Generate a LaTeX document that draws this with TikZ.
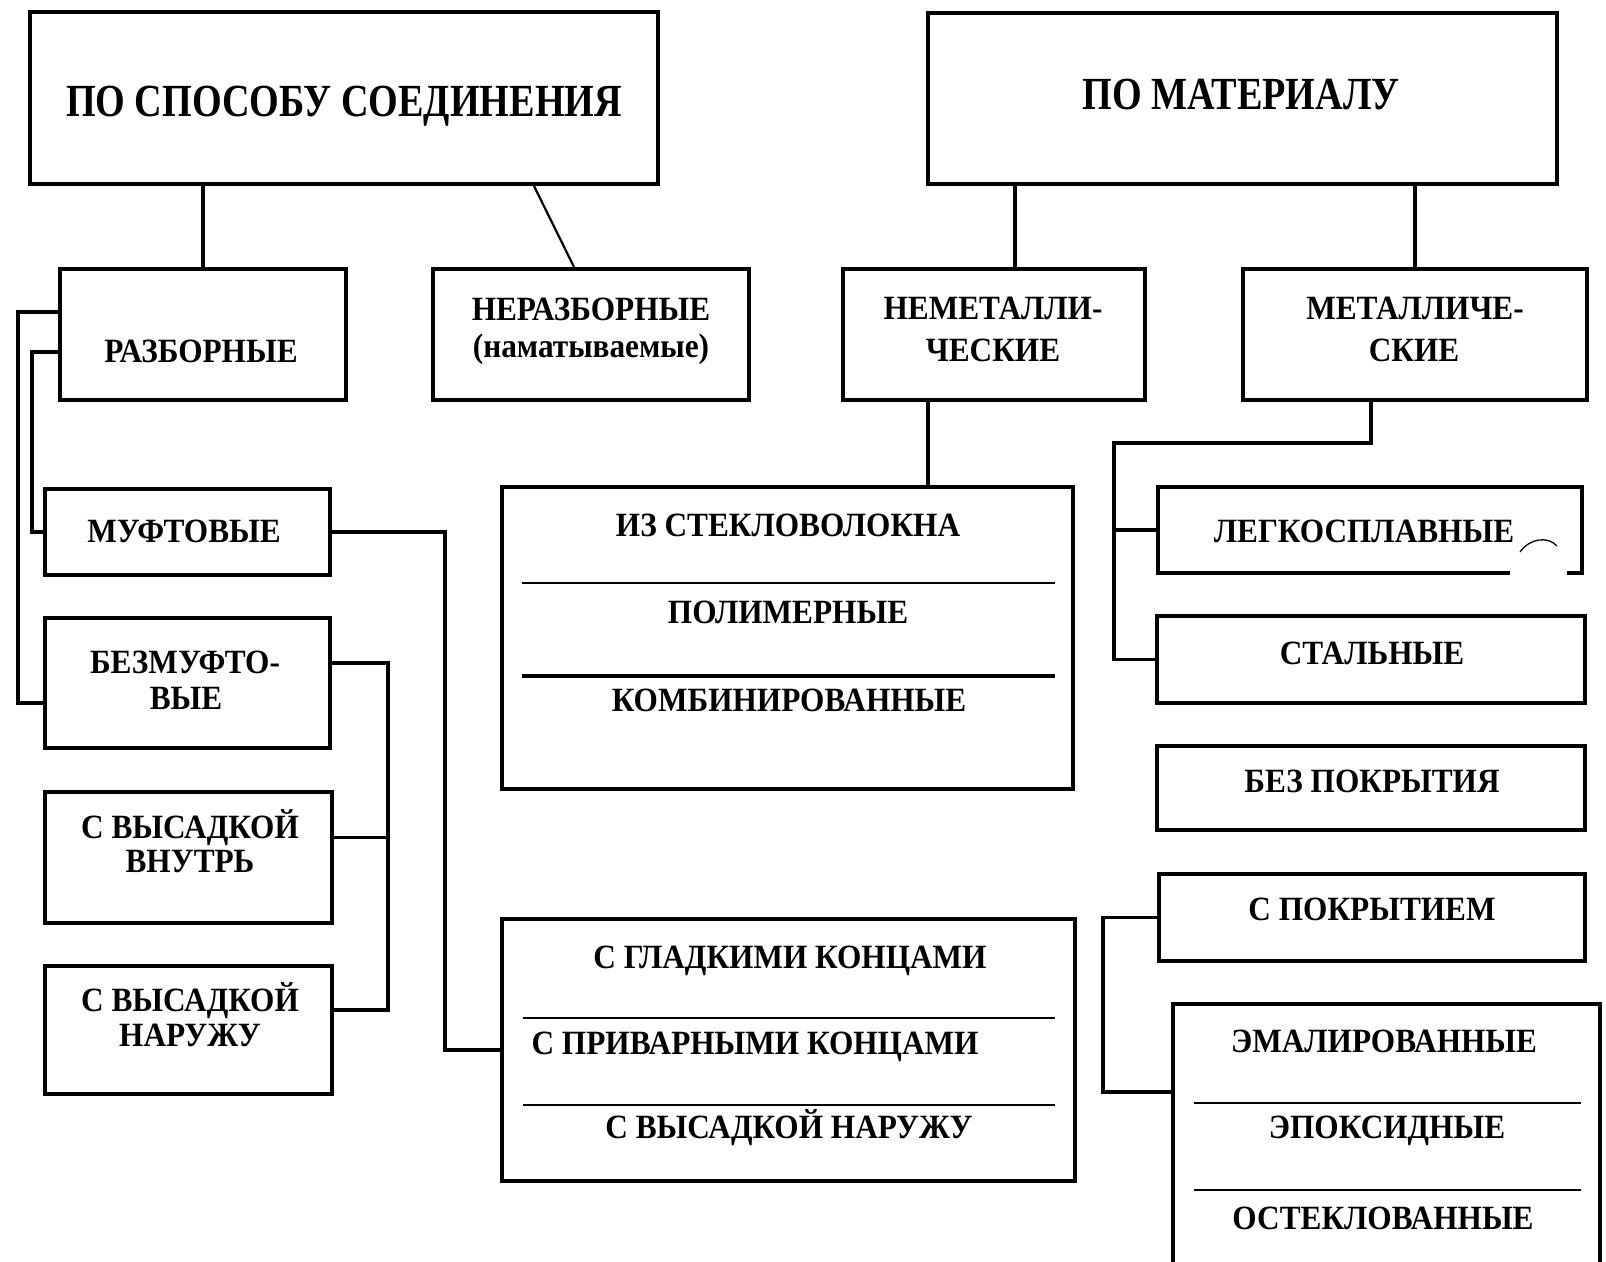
\documentclass[tikz,border=0pt]{standalone}
\usepackage{fontspec}
\setmainfont{Liberation Serif}
\newfontfamily\bigfnt{Liberation Serif}[FakeStretch=0.83]
\newfontfamily\smfnt{Liberation Serif}[FakeStretch=0.92]
\usetikzlibrary{calc}
\begin{document}
\begin{tikzpicture}[x=1pt,y=-1pt,
  box/.style={draw,line width=3.3pt,inner sep=0pt,outer sep=0pt},
  lbl/.style={anchor=base,inner sep=0pt,font=\smfnt\bfseries\fontsize{34}{36}\selectfont},
  biglbl/.style={anchor=base,inner sep=0pt,font=\bigfnt\bfseries\fontsize{46}{48}\selectfont},
  conn/.style={line width=3.3pt},
  thinconn/.style={line width=2.2pt},
  sepline/.style={line width=2.4pt},
  thicksep/.style={line width=4.2pt}]
\useasboundingbox (0,0) rectangle (1606,1261);
\clip (0,0) rectangle (1606,1261);
\fill[white] (0,0) rectangle (1606,1261);

% boxes
\node[box,minimum width=628pt,minimum height=172pt] (top1) at (344,98) {};
\node[box,minimum width=629pt,minimum height=171pt] (top2) at (1242.5,98.5) {};
\node[box,minimum width=286pt,minimum height=131pt] (razb) at (203,334.5) {};
\node[box,minimum width=316pt,minimum height=131pt] (nerazb) at (591,334.5) {};
\node[box,minimum width=302pt,minimum height=131pt] (nemet) at (994,334.5) {};
\node[box,minimum width=344pt,minimum height=131pt] (metall) at (1415,334.5) {};
\node[box,minimum width=285pt,minimum height=86pt] (muft) at (187.5,532) {};
\node[box,minimum width=285pt,minimum height=130pt] (bezmuft) at (187.5,683) {};
\node[box,minimum width=287pt,minimum height=131pt] (vnutr) at (188.5,857.5) {};
\node[box,minimum width=287pt,minimum height=128pt] (naruzh) at (188.5,1030) {};
\node[box,minimum width=571pt,minimum height=302pt] (steklo) at (787.5,638) {};
\node[box,minimum width=573pt,minimum height=262pt] (gladk) at (788.5,1050) {};
\node[box,minimum width=424pt,minimum height=86pt] (legko) at (1370,530) {};
\node[box,minimum width=428pt,minimum height=87pt] (stal) at (1371,659.5) {};
\node[box,minimum width=428pt,minimum height=84pt] (bezpokr) at (1371,788) {};
\node[box,minimum width=426pt,minimum height=87pt] (spokr) at (1372,917.5) {};
\node[box,minimum width=427pt,minimum height=296pt] (emal) at (1386.5,1152) {};

% scan gap and mark on ЛЕГКОСПЛАВНЫЕ
\draw[white,line width=5.5pt] ($(legko.south east)+(-72,0)$) -- ($(legko.south east)+(-15,0)$);
\draw[line width=1.3pt] ($(legko.south east)+(-62,-21)$) .. controls ($(legko.south east)+(-52,-35)$) and ($(legko.south east)+(-34,-37)$) .. ($(legko.south east)+(-25,-27)$);

% separators
\draw[sepline] ($(steklo.north west)+(20,96)$) -- ($(steklo.north west)+(553,96)$);
\draw[thicksep] ($(steklo.north west)+(20,189)$) -- ($(steklo.north west)+(553,189)$);
\draw[sepline] ($(gladk.north west)+(21,99)$) -- ($(gladk.north west)+(553,99)$);
\draw[sepline] ($(gladk.north west)+(21,186)$) -- ($(gladk.north west)+(553,186)$);
\draw[sepline] ($(emal.north west)+(21,99)$) -- ($(emal.north west)+(408,99)$);
\draw[sepline] ($(emal.north west)+(21,186)$) -- ($(emal.north west)+(408,186)$);

% coordinates
\coordinate (lo) at (18,312);
\coordinate (lo2) at (18,703);
\coordinate (li) at (32,352);
\coordinate (mg) at (445,0);
\coordinate (bj) at (388,0);
\coordinate (mj) at (1114,443);
\coordinate (ej) at (1103,1092);
\coordinate (bE) at ([yshift=20pt]bezmuft.east);
\coordinate (vE) at ([yshift=20pt]vnutr.east);
\coordinate (nE) at ([yshift=20pt]naruzh.east);

% connectors
\draw[conn] (razb.north) -- (razb.north |- top1.south);
\draw[thinconn] ($(top1.south west)+(503,0)$) -- ($(nerazb.north west)+(142,0)$);
\draw[conn] ([xshift=21pt]nemet.north) -- ([xshift=21pt]nemet.north |- top2.south);
\draw[conn] (metall.north) -- (metall.north |- top2.south);
\draw[conn] ([xshift=-66pt]nemet.south) -- ([xshift=-66pt]nemet.south |- steklo.north);
\draw[conn] ([xshift=-44pt]metall.south) |- (mj) -- (mj |- stal.west) -- (stal.west);
\draw[conn] (mj |- legko.west) -- (legko.west);
\draw[conn] (spokr.west) -| (ej) -- (ej -| emal.west);
\draw[conn] (razb.west |- lo) -- (lo) -- (lo2) -- (lo2 -| bezmuft.west);
\draw[conn] (razb.west |- li) -- (li) |- (muft.west);
\draw[conn] (muft.east) -| (mg |- gladk.west) -- (gladk.west);
\draw[conn] (bE) -| (bj |- nE) -- (nE);
\draw[conn] (vE) -- (bj |- vE);

% labels
\node[biglbl] (t1) at (344,116) {ПО СПОСОБУ СОЕДИНЕНИЯ};
\node[biglbl] (t2) at (1241,109) {ПО МАТЕРИАЛУ};
\node[lbl] (l-razb) at (201,362) {РАЗБОРНЫЕ};
\node[lbl] (l-nerazb1) at (591,320) {НЕРАЗБОРНЫЕ};
\node[lbl] (l-nerazb2) at (591,357) {(наматываемые)};
\node[lbl] (l-nemet1) at (993,319) {НЕМЕТАЛЛИ-};
\node[lbl] (l-nemet2) at (993,361) {ЧЕСКИЕ};
\node[lbl] (l-metall1) at (1415,319) {МЕТАЛЛИЧЕ-};
\node[lbl] (l-metall2) at (1414,361) {СКИЕ};
\node[lbl] (l-muft) at (184,542) {МУФТОВЫЕ};
\node[lbl] (l-bezmuft1) at (185,673) {БЕЗМУФТО-};
\node[lbl] (l-bezmuft2) at (186,709) {ВЫЕ};
\node[lbl] (l-vnutr1) at (190,838) {С ВЫСАДКОЙ};
\node[lbl] (l-vnutr2) at (190,872) {ВНУТРЬ};
\node[lbl] (l-naruzh1) at (190,1011) {С ВЫСАДКОЙ};
\node[lbl] (l-naruzh2) at (190,1046) {НАРУЖУ};
\node[lbl] (l-steklo1) at (788,536) {ИЗ СТЕКЛОВОЛОКНА};
\node[lbl] (l-steklo2) at (788,623) {ПОЛИМЕРНЫЕ};
\node[lbl] (l-steklo3) at (789,711) {КОМБИНИРОВАННЫЕ};
\node[lbl] (l-gladk1) at (790,968) {С ГЛАДКИМИ КОНЦАМИ};
\node[lbl] (l-gladk2) at (755,1054) {С ПРИВАРНЫМИ КОНЦАМИ};
\node[lbl] (l-gladk3) at (789,1138) {С ВЫСАДКОЙ НАРУЖУ};
\node[lbl] (l-legko) at (1364,542) {ЛЕГКОСПЛАВНЫЕ};
\node[lbl] (l-stal) at (1372,664) {СТАЛЬНЫЕ};
\node[lbl] (l-bezpokr) at (1372,792) {БЕЗ ПОКРЫТИЯ};
\node[lbl] (l-spokr) at (1372,920) {С ПОКРЫТИЕМ};
\node[lbl] (l-emal1) at (1384,1052) {ЭМАЛИРОВАННЫЕ};
\node[lbl] (l-emal2) at (1387,1138) {ЭПОКСИДНЫЕ};
\node[lbl] (l-emal3) at (1383,1229) {ОСТЕКЛОВАННЫЕ};
\end{tikzpicture}
\end{document}
